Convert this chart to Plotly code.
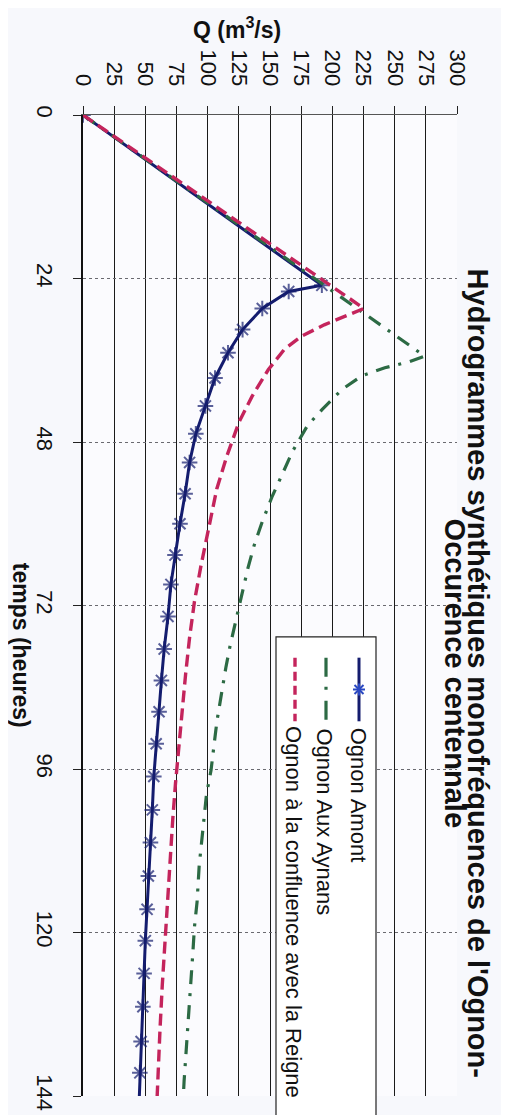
import plotly.graph_objects as go

# ---------------- data ----------------
q_ticks = list(range(0, 301, 25))
t_ticks = [0, 24, 48, 72, 96, 120, 144]

amont_t = [0, 25.0, 25.9, 28.4, 31.5, 34.9, 38.6, 42.7, 46.8, 51.0, 55.6, 60.0, 64.6, 68.9, 73.6,
           78.4, 83.0, 87.6, 92.3, 97.1, 102.0, 106.8, 111.7, 116.6, 121.2, 126.0, 130.9, 136.0, 140.6, 144]
amont_q = [0, 191.6, 165.0, 143.8, 128.0, 116.3, 105.9, 98.2, 90.5, 85.5, 81.9, 77.8, 73.8, 70.5, 68.2,
           65.1, 62.9, 61.0, 58.7, 56.8, 55.6, 54.1, 52.4, 51.4, 50.0, 49.0, 48.0, 46.6, 45.6, 45.2]

aynans_t = [0, 35.4, 36.2, 37.1, 38.3, 40.3, 43.2, 45.6, 49.3, 52.4, 56.1, 59.7, 63.1, 66.5, 70.4, 74.3,
            77.9, 81.1, 85.2, 88.9, 92.5, 96.2, 99.8, 103.7, 110.2, 115.5, 119.2, 123.0, 126.8, 130.6,
            134.1, 137.9, 141.8, 144]
aynans_q = [0, 274.1, 262.1, 242.1, 223.5, 207.7, 191.9, 180.0, 168.3, 160.6, 151.5, 143.8, 137.4, 132.3,
            127.3, 122.3, 118.0, 114.6, 111.0, 107.5, 105.1, 102.7, 99.0, 96.7, 93.2, 91.5, 89.4, 88.1,
            86.6, 85.0, 83.6, 82.1, 81.1, 80.5]

confl_t = [0, 28.4, 29.6, 30.8, 32.5, 34.4, 37.4, 41.3, 45.1, 50.0, 54.9, 60.4, 66.0, 71.4, 76.7, 82.1,
           87.9, 93.2, 98.1, 103.4, 109.3, 115.6, 121.9, 127.7, 134.1, 142.3, 144]
confl_q = [0, 225.4, 209.4, 193.5, 174.9, 161.5, 148.6, 135.6, 125.1, 115.5, 107.3, 101.1, 94.8, 89.4,
           85.5, 82.3, 79.3, 76.5, 74.2, 72.0, 69.8, 67.6, 65.5, 63.6, 61.8, 59.8, 59.5]

names = ["Ognon Amont", "Ognon Aux Aynans", "Ognon à la confluence avec la Reigne"]
title_lines = ["Hydrogrammes synthétiques monofréquences de l'Ognon-", "Occurence centennale"]
x_title = "Q (m<sup>3</sup>/s)"
y_title = "temps (heures)"

# ---------------- styles / layout ----------------
W, H = 509, 1115
L, R, T, B = 75, 60, 107, 21
PW, PH = W - L - R, H - T - B
FONT = "Liberation Sans, Arial, sans-serif"
C_AMONT_LINE = "#141c6e"
C_AMONT_MARK = "#2a48c2"
C_AYNANS = "#2c6a44"
C_CONFL = "#c4245c"
DASH_AYNANS = "14px,9px,3px,9px"
DASH_CONFL = "12px,6px"
LEG_FONT = 22

def px(xp, yp):
    return (xp - L) / PW, (H - B - yp) / PH

fig = go.Figure()

amont_sizes = [13] * (len(amont_t) - 1) + [0]
fig.add_trace(go.Scatter(x=amont_q, y=amont_t, mode="lines+markers", name=names[0],
                         line=dict(color=C_AMONT_LINE, width=3),
                         marker=dict(symbol="asterisk-open", size=amont_sizes,
                                     line=dict(color=C_AMONT_MARK, width=2)),
                         showlegend=False))
fig.add_trace(go.Scatter(x=aynans_q, y=aynans_t, mode="lines", name=names[1],
                         line=dict(color=C_AYNANS, width=3.2, dash=DASH_AYNANS),
                         showlegend=False))
fig.add_trace(go.Scatter(x=confl_q, y=confl_t, mode="lines", name=names[2],
                         line=dict(color=C_CONFL, width=3.4, dash=DASH_CONFL),
                         showlegend=False))

# ---------------- legend (box, samples, texts) ----------------
shapes = []
bx0, by0 = px(268, 632)
bx1, by1 = px(368, 1130)
shapes.append(dict(type="rect", xref="paper", yref="paper", x0=bx0, y0=by1, x1=bx1, y1=by0,
                   line=dict(color="#222", width=1.2), fillcolor="white", layer="above"))

leg_x = [351, 318, 287]
leg_y0, leg_y1 = 653, 717
leg_styles = [(C_AMONT_LINE, 3, "solid"), (C_AYNANS, 3.2, "19px,10px,3px,11px"),
              (C_CONFL, 3.4, "9px,5px")]
for xl, (col, wd, ds) in zip(leg_x, leg_styles):
    a0, b0 = px(xl, leg_y0)
    a1, b1 = px(xl, leg_y1)
    shapes.append(dict(type="line", xref="paper", yref="paper", x0=a0, y0=b0, x1=a1, y1=b1,
                       line=dict(color=col, width=wd, dash=ds), layer="above"))
# asterisk sample marker
cx, cy = leg_x[0], (leg_y0 + leg_y1) / 2
for dx, dy in [(6, 0), (4.5, 4.5), (4.5, -4.5), (0, 6)]:
    a0, b0 = px(cx - dx, cy - dy)
    a1, b1 = px(cx + dx, cy + dy)
    shapes.append(dict(type="line", xref="paper", yref="paper", x0=a0, y0=b0, x1=a1, y1=b1,
                       line=dict(color=C_AMONT_MARK, width=2), layer="above"))

annotations = []
leg_em = [6.17, 8.62, 16.9]
for i, nm in enumerate(names):
    ax, ay = px(leg_x[i] - 1, 723 + leg_em[i] * LEG_FONT / 2)
    annotations.append(dict(text=nm, x=ax, y=ay, xref="paper", yref="paper", textangle=90,
                            xanchor="center", yanchor="middle", showarrow=False,
                            font=dict(family=FONT, size=LEG_FONT, color="#111")))

tx1, ty = px(470, 668)
tx2, _ = px(447, 668)
annotations.append(dict(text="<b>%s</b>" % title_lines[0], x=tx1, y=ty, xref="paper", yref="paper",
                        textangle=90, xanchor="center", yanchor="middle", showarrow=False,
                        font=dict(family=FONT, size=29, color="#111")))
annotations.append(dict(text="<b>%s</b>" % title_lines[1], x=tx2, y=ty, xref="paper", yref="paper",
                        textangle=90, xanchor="center", yanchor="middle", showarrow=False,
                        font=dict(family=FONT, size=29, color="#111")))
qx, qy = px(229, 19)
annotations.append(dict(text="<b>%s</b>" % x_title, x=qx, y=qy, xref="paper", yref="paper",
                        xanchor="center", yanchor="middle", showarrow=False,
                        font=dict(family=FONT, size=23, color="#111")))
sx, sy = px(13, 640)
annotations.append(dict(text="<b>%s</b>" % y_title, x=sx, y=sy, xref="paper", yref="paper",
                        textangle=90, xanchor="center", yanchor="middle", showarrow=False,
                        font=dict(family=FONT, size=23, color="#111")))

fig.update_layout(
    width=W, height=H,
    margin=dict(l=L, r=R, t=T, b=B),
    paper_bgcolor="#f7f8fc", plot_bgcolor="#fbfbfe",
    font=dict(family=FONT, color="#111"),
    xaxis=dict(side="top", range=[0, 300], tickvals=q_ticks, ticks="outside", ticklen=8,
               tickcolor="#222", tickangle=90, tickfont=dict(size=22, color="#111"),
               ticklabelstandoff=12,
               showgrid=True, gridcolor="#1a1a1a", gridwidth=1.2, zeroline=False,
               showline=True, linecolor="#555", linewidth=1),
    yaxis=dict(range=[144, 0], tickvals=t_ticks, ticks="outside", ticklen=8, tickcolor="#222",
               tickangle=90, tickfont=dict(size=22, color="#111"), ticklabelstandoff=10,
               showgrid=True, gridcolor="#6a6a70", gridwidth=1, griddash="dot", zeroline=False,
               showline=True, linecolor="#111", linewidth=1.5),
    shapes=shapes, annotations=annotations,
)

fig.write_html("out.html")
